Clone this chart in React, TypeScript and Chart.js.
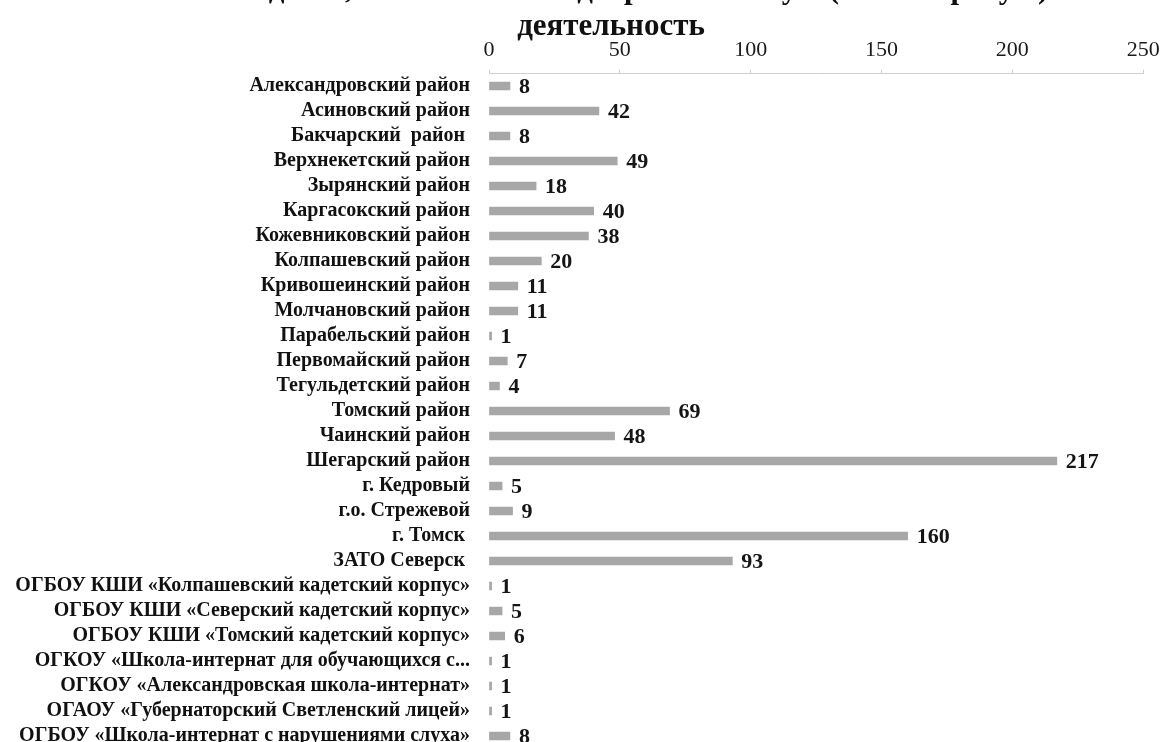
import { useEffect, useRef } from "react";
import { Chart, registerables } from "chart.js";

Chart.register(...registerables);

const categories = [
  "Александровский район",
  "Асиновский район",
  "Бакчарский  район ",
  "Верхнекетский район",
  "Зырянский район",
  "Каргасокский район",
  "Кожевниковский район",
  "Колпашевский район",
  "Кривошеинский район",
  "Молчановский район",
  "Парабельский район",
  "Первомайский район",
  "Тегульдетский район",
  "Томский район",
  "Чаинский район",
  "Шегарский район",
  "г. Кедровый",
  "г.о. Стрежевой",
  "г. Томск ",
  "ЗАТО Северск ",
  "ОГБОУ КШИ «Колпашевский кадетский корпус»",
  "ОГБОУ КШИ «Северский кадетский корпус»",
  "ОГБОУ КШИ «Томский кадетский корпус»",
  "ОГКОУ «Школа-интернат для обучающихся с...",
  "ОГКОУ «Александровская школа-интернат»",
  "ОГАОУ «Губернаторский Светленский лицей»",
  "ОГБОУ «Школа-интернат с нарушениями слуха»",
];

const values = [8, 42, 8, 49, 18, 40, 38, 20, 11, 11, 1, 7, 4, 69, 48, 217, 5, 9, 160, 93, 1, 5, 6, 1, 1, 1, 8];

const xTicks = [0, 50, 100, 150, 200, 250];

const titleLines = [
  "Число детей, вовлеченных в добровольческую (волонтерскую)",
  "деятельность",
];

const FONT = "'Liberation Serif', 'Times New Roman', serif";
const SHIFT = 27;
const W = 1166;
const H = 777;

export default function App() {
  const ref = useRef<HTMLCanvasElement>(null);

  useEffect(() => {
    if (!ref.current) return;

    const valueLabels = {
      id: "valueLabels",
      afterDatasetsDraw(chart: any) {
        const ctx = chart.ctx;
        const meta = chart.getDatasetMeta(0);
        ctx.save();
        ctx.font = `bold 22px ${FONT}`;
        ctx.fillStyle = "#151515";
        ctx.textBaseline = "middle";
        ctx.textAlign = "left";
        meta.data.forEach((bar: any, i: number) => {
          ctx.fillText(String(values[i]), bar.x + 9, bar.y + 1);
        });
        ctx.restore();
      },
    };

    const titlePlugin = {
      id: "offsetTitle",
      afterDraw(chart: any) {
        const ctx = chart.ctx;
        ctx.save();
        ctx.font = `bold 31px ${FONT}`;
        ctx.fillStyle = "#111";
        ctx.textAlign = "center";
        ctx.textBaseline = "alphabetic";
        ctx.fillText(titleLines[0], 611, SHIFT - 2);
        ctx.fillText(titleLines[1], 611, SHIFT + 35);
        ctx.restore();
      },
    };

    const chart = new Chart(ref.current, {
      type: "bar",
      data: {
        labels: categories,
        datasets: [
          {
            data: values,
            backgroundColor: "#a7a7a7",
            barThickness: 8,
          },
        ],
      },
      options: {
        animation: false,
        responsive: false,
        indexAxis: "y",
        layout: { padding: { left: 0, right: 21, top: 69, bottom: 1.5 } },
        plugins: {
          legend: { display: false },
          tooltip: { enabled: false },
          title: { display: false },
        },
        scales: {
          x: {
            position: "top",
            min: 0,
            max: 250,
            afterBuildTicks: (s: any) => {
              s.ticks = xTicks.map((v) => ({ value: v }));
            },
            afterFit: (s: any) => {
              s.height = 31.5;
            },
            ticks: {
              color: "#1a1a1a",
              font: { family: FONT, size: 22, lineHeight: 1.2 },
              padding: 6.3,
            },
            grid: {
              drawOnChartArea: false,
              tickLength: 4,
              color: "#d0d0d0",
            },
            border: { color: "#d0d0d0" },
          },
          y: {
            afterFit: (s: any) => {
              s.width = 489;
              s.paddingTop = 0;
              s.paddingBottom = 0;
            },
            grid: { display: false, drawTicks: false },
            border: { display: false },
            ticks: {
              autoSkip: false,
              color: "#111",
              font: { family: FONT, size: 20, weight: "bold", lineHeight: 1.2 },
              padding: 19,
            },
          },
        },
      },
      plugins: [valueLabels, titlePlugin],
    } as any);

    return () => chart.destroy();
  }, []);

  return (
    <div
      style={{
        position: "fixed",
        left: 0,
        top: 0,
        width: W,
        height: 742,
        overflow: "hidden",
        background: "#fff",
      }}
    >
      <canvas
        ref={ref}
        width={W}
        height={H}
        style={{ position: "absolute", left: 0, top: -SHIFT, width: W, height: H }}
      />
    </div>
  );
}
